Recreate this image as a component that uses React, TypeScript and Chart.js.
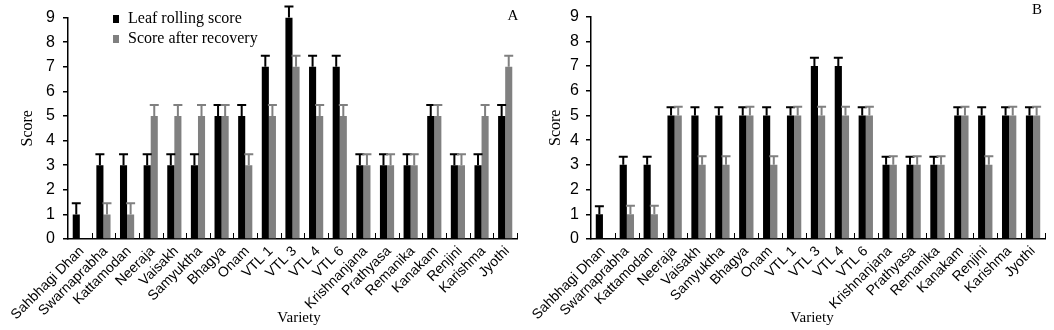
import React, { useEffect, useRef } from "react";
import { Chart, registerables } from "chart.js";

Chart.register(...registerables);

const varieties = [
  "Sahbhagi Dhan", "Swarnaprabha", "Kattamodan", "Neeraja", "Vaisakh", "Samyuktha",
  "Bhagya", "Onam", "VTL 1", "VTL 3", "VTL 4", "VTL 6", "Krishnanjana", "Prathyasa",
  "Remanika", "Kanakam", "Renjini", "Karishma", "Jyothi",
];

const leafScoreA = [1, 3, 3, 3, 3, 3, 5, 5, 7, 9, 7, 7, 3, 3, 3, 5, 3, 3, 5];
const recoveryA = [0, 1, 1, 5, 5, 5, 5, 3, 5, 7, 5, 5, 3, 3, 3, 5, 3, 5, 7];
const leafErrA = [0.45, 0.45, 0.45, 0.45, 0.45, 0.45, 0.45, 0.45, 0.45, 0.45, 0.45, 0.45, 0.45, 0.45, 0.45, 0.45, 0.45, 0.45, 0.45];
const recoveryErrA = [0, 0.45, 0.45, 0.45, 0.45, 0.45, 0.45, 0.45, 0.45, 0.45, 0.45, 0.45, 0.45, 0.45, 0.45, 0.45, 0.45, 0.45, 0.45];

const leafScoreB = [1, 3, 3, 5, 5, 5, 5, 5, 5, 7, 7, 5, 3, 3, 3, 5, 5, 5, 5];
const recoveryB = [0, 1, 1, 5, 3, 3, 5, 3, 5, 5, 5, 5, 3, 3, 3, 5, 3, 5, 5];
const leafErrB = [0.33, 0.33, 0.33, 0.33, 0.33, 0.33, 0.33, 0.33, 0.33, 0.33, 0.33, 0.33, 0.33, 0.33, 0.33, 0.33, 0.33, 0.33, 0.33];
const recoveryErrB = [0, 0.35, 0.35, 0.35, 0.35, 0.35, 0.35, 0.35, 0.35, 0.35, 0.35, 0.35, 0.35, 0.35, 0.35, 0.35, 0.35, 0.35, 0.35];

const yTicks = [0, 1, 2, 3, 4, 5, 6, 7, 8, 9];
const seriesNames = ["Leaf rolling score", "Score after recovery"];
const xTitle = "Variety";
const yTitle = "Score";

const BLACK = "#000000";
const GRAY = "#808080";
const SANS = "'Liberation Sans', Arial, sans-serif";
const SERIF = "'Liberation Serif', 'Times New Roman', serif";

type PanelProps = {
  letter: string;
  leaf: number[];
  rec: number[];
  leafErr: number[];
  recErr: number[];
  yWidth: number;
  rightPad: number;
  tickPad: number;
  titlePad: number;
  showLegend: boolean;
  letterX: number;
  letterY: number;
  xTitleX: number;
  labelOffset: number;
};

function Panel(p: PanelProps) {
  const ref = useRef<HTMLCanvasElement | null>(null);
  useEffect(() => {
    if (!ref.current) return;
    const errorPlugin = {
      id: "errbars",
      afterDatasetsDraw(chart: any) {
        const ctx = chart.ctx;
        const y = chart.scales.y;
        chart.data.datasets.forEach((ds: any, di: number) => {
          const meta = chart.getDatasetMeta(di);
          meta.data.forEach((bar: any, i: number) => {
            const v = ds.data[i];
            const e = ds.errors[i];
            if (!v || !e) return;
            const yTop = y.getPixelForValue(v + e);
            ctx.save();
            ctx.strokeStyle = ds.backgroundColor;
            ctx.lineWidth = 2;
            ctx.beginPath();
            ctx.moveTo(bar.x, bar.y);
            ctx.lineTo(bar.x, yTop);
            ctx.moveTo(bar.x - 4.5, yTop);
            ctx.lineTo(bar.x + 4.5, yTop);
            ctx.stroke();
            ctx.restore();
          });
        });
      },
      afterDraw(chart: any) {
        const ctx = chart.ctx;
        const x = chart.scales.x;
        const area = chart.chartArea;
        ctx.save();
        ctx.strokeStyle = BLACK;
        ctx.lineWidth = 1;
        ctx.beginPath();
        for (let i = 1; i <= varieties.length; i++) {
          const px = Math.round(x.getPixelForValue(i - 0.5)) + 0.5;
          ctx.moveTo(px, area.bottom);
          ctx.lineTo(px, area.bottom - 6);
        }
        ctx.stroke();
        if (p.showLegend) {
          const colors = [BLACK, GRAY];
          const rows = [19, 39];
          ctx.font = `16px ${SERIF}`;
          ctx.textBaseline = "middle";
          ctx.textAlign = "left";
          seriesNames.forEach((name, k) => {
            ctx.fillStyle = colors[k];
            ctx.fillRect(113, rows[k] - 4, 6, 8);
            ctx.fillStyle = BLACK;
            ctx.fillText(name, 128, rows[k]);
          });
        }
        ctx.fillStyle = BLACK;
        ctx.textAlign = "center";
        ctx.textBaseline = "middle";
        ctx.font = `15px ${SERIF}`;
        ctx.fillText(p.letter, p.letterX, p.letterY);
        ctx.fillText(xTitle, p.xTitleX, 318);
        ctx.restore();
      },
    };

    const chart = new Chart(ref.current, {
      type: "bar",
      data: {
        labels: varieties,
        datasets: [
          { label: seriesNames[0], data: p.leaf, errors: p.leafErr, backgroundColor: BLACK, borderWidth: 0 } as any,
          { label: seriesNames[1], data: p.rec, errors: p.recErr, backgroundColor: GRAY, borderWidth: 0 } as any,
        ],
      },
      options: {
        responsive: false,
        animation: false,
        layout: { padding: { top: 15, right: p.rightPad, left: 0, bottom: 0 } },
        plugins: { legend: { display: false }, tooltip: { enabled: false } },
        datasets: { bar: { categoryPercentage: 0.6, barPercentage: 1.0 } },
        scales: {
          x: {
            offset: true,
            grid: { display: false, drawTicks: true, tickLength: 2 },
            border: { display: true, color: BLACK, width: 1.5 },
            ticks: {
              autoSkip: false,
              maxRotation: 45,
              minRotation: 45,
              color: BLACK,
              padding: 2,
              labelOffset: p.labelOffset,
              font: { family: SANS, size: 14 },
            },
            title: { display: false },
            afterFit: (s: any) => {
              s.height = 91;
            },
          },
          y: {
            min: 0,
            max: 9,
            afterBuildTicks: (s: any) => {
              s.ticks = yTicks.map((v) => ({ value: v }));
            },
            grid: { display: true, drawOnChartArea: false, drawTicks: true, tickLength: 5, color: BLACK, lineWidth: 1.5 },
            border: { display: true, color: BLACK, width: 1.5 },
            ticks: {
              color: BLACK,
              padding: p.tickPad,
              font: { family: SANS, size: 16 },
            },
            title: {
              display: true,
              text: yTitle,
              color: BLACK,
              font: { family: SERIF, size: 16 },
              padding: { top: p.titlePad, bottom: 0 },
            },
            afterFit: (s: any) => {
              s.width = p.yWidth;
            },
          },
        },
      } as any,
      plugins: [errorPlugin],
    });
    return () => chart.destroy();
  }, []);
  return <canvas ref={ref} width={527} height={330} style={{ display: "block" }} />;
}

export default function App() {
  return (
    <div style={{ position: "fixed", left: 0, top: 0, width: 1054, height: 330, display: "flex", background: "#fff" }}>
      <Panel letter="A" leaf={leafScoreA} rec={recoveryA} leafErr={leafErrA} recErr={recoveryErrA}
        yWidth={68} rightPad={10} tickPad={8} titlePad={18} showLegend={true} letterX={513} letterY={16}
        xTitleX={299} labelOffset={2} />
      <Panel letter="B" leaf={leafScoreB} rec={recoveryB} leafErr={leafErrB} recErr={recoveryErrB}
        yWidth={64} rightPad={9} tickPad={7} titlePad={19} showLegend={false} letterX={510} letterY={10}
        xTitleX={285} labelOffset={0} />
    </div>
  );
}
